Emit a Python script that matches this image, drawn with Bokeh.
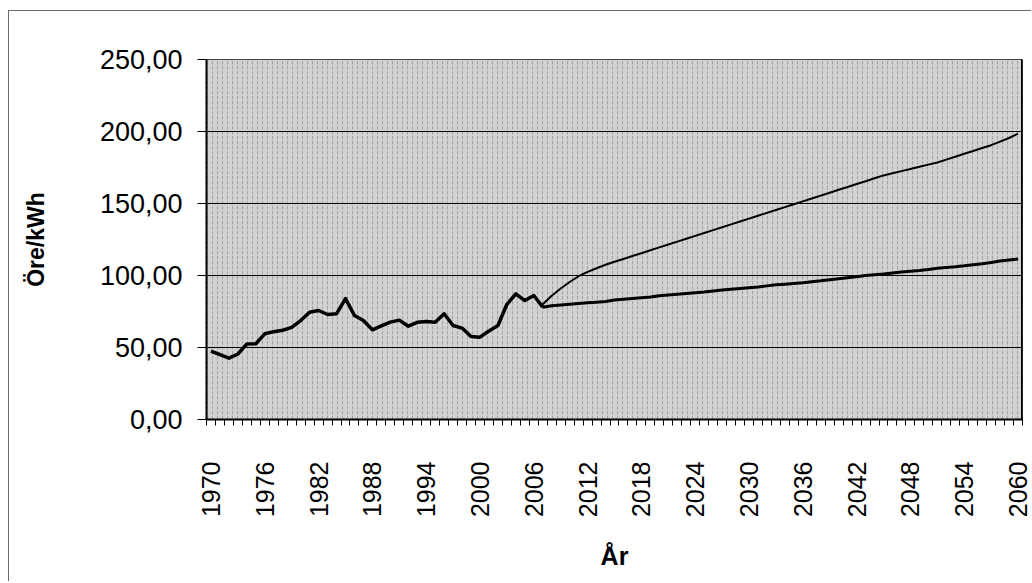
import math
from bokeh.plotting import figure
from bokeh.models import Range1d, FixedTicker, BoxAnnotation, Span
from bokeh.embed import file_html
from bokeh.resources import INLINE

# ---- data ----
hist_years = list(range(1970, 2008))
hist_values = [47.5, 45.0, 42.6, 45.5, 52.5, 52.6, 59.5, 61.0, 62.0, 64.0,
               68.7, 74.5, 75.7, 72.9, 73.4, 84.0, 72.2, 68.7, 62.3, 65.0,
               67.6, 69.0, 64.8, 67.5, 68.0, 67.5, 73.4, 65.3, 63.5, 57.6,
               57.2, 61.5, 65.3, 80.0, 87.3, 82.6, 86.1, 78.0]

proj_years = list(range(2007, 2061))
proj_high = [80.0, 86.0, 91.0, 95.5, 99.5, 102.5, 105.0, 107.5, 109.5, 111.5,
             113.5, 115.5, 117.5, 119.5, 121.5, 123.5, 125.5, 127.5, 129.5, 131.5,
             133.5, 135.5, 137.5, 139.5, 141.5, 143.5, 145.5, 147.5, 149.5, 151.5,
             153.5, 155.5, 157.5, 159.5, 161.5, 163.5, 165.5, 167.5, 169.5, 171.0,
             172.5, 174.0, 175.5, 177.0, 178.5, 180.5, 182.5, 184.5, 186.5, 188.5,
             190.5, 193.0, 195.5, 198.5]
proj_low = [78.0, 79.0, 79.5, 80.0, 80.5, 81.0, 81.5, 82.0, 83.0, 83.5,
            84.0, 84.5, 85.0, 86.0, 86.5, 87.0, 87.5, 88.0, 88.5, 89.3,
            90.0, 90.5, 91.0, 91.5, 92.0, 92.8, 93.5, 94.0, 94.5, 95.0,
            95.7, 96.3, 97.0, 97.8, 98.5, 99.2, 100.0, 100.5, 101.0, 101.8,
            102.5, 103.0, 103.5, 104.2, 105.0, 105.5, 106.0, 106.7, 107.5, 108.2,
            109.0, 110.0, 110.8, 111.5]

y_ticks = [0, 50, 100, 150, 200, 250]
y_tick_labels = ["0,00", "50,00", "100,00", "150,00", "200,00", "250,00"]
x_label_years = [1970, 1976, 1982, 1988, 1994, 2000, 2006, 2012, 2018,
                 2024, 2030, 2036, 2042, 2048, 2054, 2060]
all_years = list(range(1970, 2061))

# ---- figure ----
p = figure(width=1023, height=571, output_backend="svg", toolbar_location=None,
           x_range=Range1d(all_years[0] - 0.5, all_years[-1] + 0.5),
           y_range=Range1d(0, 250),
           min_border_left=197, min_border_right=10,
           min_border_top=48, min_border_bottom=163)
p.styles = {"border-top": "1px solid #6a6a6a", "border-left": "1px solid #6a6a6a",
            "margin-top": "10px", "margin-left": "8px"}

p.background_fill_color = "#d2d2d2"
p.border_fill_color = "white"
p.outline_line_color = "#444444"
p.outline_line_width = 1

texture = BoxAnnotation(fill_alpha=0, line_alpha=0, hatch_pattern="vertical_dash",
                        hatch_color="black", hatch_alpha=0.22, hatch_scale=5,
                        hatch_weight=1, level="underlay")
p.add_layout(texture)

# grid
p.xgrid.visible = False
p.ygrid.ticker = FixedTicker(ticks=y_ticks[1:-1])
p.ygrid.grid_line_color = "black"
p.ygrid.grid_line_width = 1

# y axis
p.yaxis.ticker = FixedTicker(ticks=y_ticks)
p.yaxis.major_label_overrides = dict(zip(y_ticks, y_tick_labels))
p.yaxis.major_tick_out = 9
p.yaxis.major_tick_in = 0
p.yaxis.minor_tick_out = 0
p.yaxis.minor_tick_in = 0
p.yaxis.axis_line_width = 2
p.yaxis.axis_line_color = "black"
p.yaxis.major_tick_line_color = "black"
p.yaxis.major_label_text_font = "Liberation Sans"
p.yaxis.major_label_text_font_size = "27px"
p.yaxis.major_label_text_color = "black"
p.yaxis.major_label_standoff = 15
p.yaxis.axis_label = "Öre/kWh"
p.yaxis.axis_label_text_font = "Liberation Sans"
p.yaxis.axis_label_text_font_style = "bold"
p.yaxis.axis_label_text_font_size = "23px"
p.yaxis.axis_label_text_color = "black"
p.yaxis.axis_label_standoff = 48

# x axis
p.xaxis.ticker = FixedTicker(ticks=x_label_years,
                             minor_ticks=[y - 0.5 for y in all_years + [all_years[-1] + 1]])
p.xaxis.major_tick_out = 0
p.xaxis.major_tick_in = 0
p.xaxis.minor_tick_out = 6
p.xaxis.minor_tick_in = 0
p.xaxis.minor_tick_line_color = "black"
p.xaxis.axis_line_width = 2
p.xaxis.axis_line_color = "black"
p.xaxis.major_label_orientation = math.pi / 2
p.xaxis.major_label_text_font = "Liberation Sans"
p.xaxis.major_label_text_font_size = "25px"
p.xaxis.major_label_text_color = "black"
p.xaxis.major_label_standoff = 36
p.xaxis.axis_label = "År"
p.xaxis.axis_label_text_font = "Liberation Sans"
p.xaxis.axis_label_text_font_style = "bold"
p.xaxis.axis_label_text_font_size = "25px"
p.xaxis.axis_label_text_color = "black"
p.xaxis.axis_label_standoff = 22

# thick right frame edge
p.add_layout(Span(location=all_years[-1] + 0.5, dimension="height",
                  line_color="black", line_width=3))

# lines
p.line(proj_years, proj_high, line_color="black", line_width=2)
p.line(proj_years, proj_low, line_color="black", line_width=3)
p.line(hist_years, hist_values, line_color="black", line_width=3.5, line_join="round")

open("out.html", "w").write(file_html(p, INLINE))
